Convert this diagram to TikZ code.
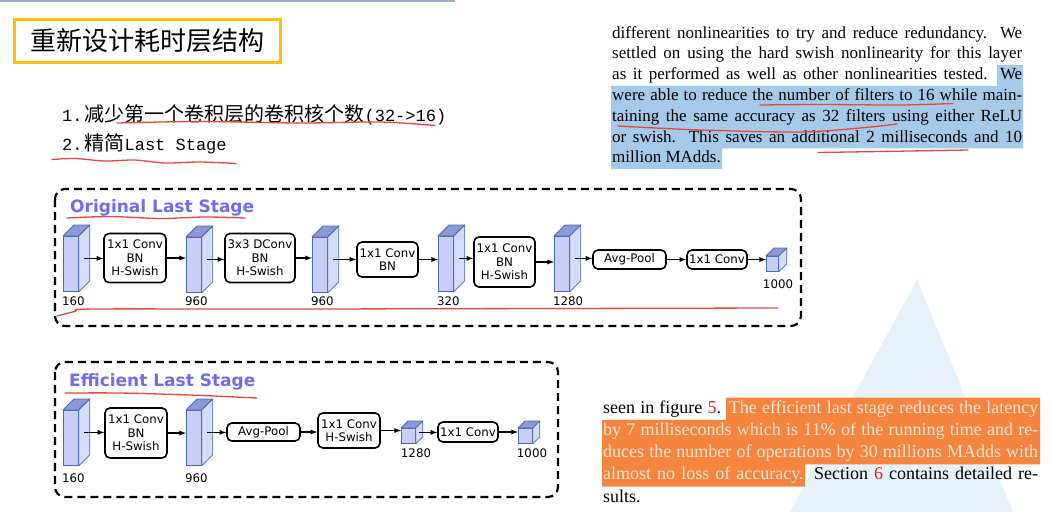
\documentclass[tikz,border=0pt]{standalone}
\usepackage{fontspec}
\setmainfont{Liberation Serif}
\newfontfamily\cjk{Noto Sans CJK SC}
\newfontfamily\listmono{Liberation Mono}
\newfontfamily\djv{DejaVu Sans}
\usetikzlibrary{calc}
\definecolor{fmfront}{HTML}{C8CEF7}
\definecolor{fmtop}{HTML}{8E97D8}
\definecolor{fmside}{HTML}{D6DBFA}
\definecolor{fmedge}{HTML}{4D6BB3}
\definecolor{stagetitle}{HTML}{6B6EF2}
\definecolor{markred}{HTML}{E8473C}
\definecolor{refred}{HTML}{E0211D}
\definecolor{hlblue}{HTML}{A5C9E8}
\definecolor{hlorange}{HTML}{F5843F}
\definecolor{hltext}{HTML}{FCE6D6}
\definecolor{boxorange}{HTML}{FFC000}
\definecolor{topline}{HTML}{95B3D7}
\definecolor{wmark}{HTML}{E4F2FC}
\begin{document}
\begin{tikzpicture}[x=1pt,y=-1pt,
	fmap/.style={draw=fmedge,fill=fmfront,line width=0.8pt,inner sep=0pt,anchor=north west},
	fmtopface/.style={draw=fmedge,fill=fmtop,line width=0.8pt,line join=round},
	fmsideface/.style={draw=fmedge,fill=fmside,line width=0.8pt,line join=round},
	layer/.style={draw,line width=1.6pt,rounded corners=5pt,align=center,inner sep=0pt,font=\djv\fontsize{11.8}{13.5}\selectfont},
	dim/.style={font=\djv\fontsize{11.8}{14}\selectfont,inner sep=0pt},
	arr/.style={-latex,line width=1.3pt},
	stagebox/.style={line width=2.2pt,dash pattern=on 8pt off 5pt,rounded corners=10pt},
	stagename/.style={font=\djv\bfseries\fontsize{17}{20}\selectfont,text=stagetitle,inner sep=0pt,anchor=west},
	redpen/.style={markred,line width=1.3pt,line cap=round},
	para/.style={font=\fontsize{17}{20.8}\selectfont,inner sep=0pt,anchor=base west},
	paralow/.style={font=\fontsize{18}{22}\selectfont,inner sep=0pt,anchor=base west}]
	\useasboundingbox (0,0) rectangle (1051,512);
	\fill[white] (0,0) rectangle (1051,512);
	\draw[topline,line width=2pt] (0,1) -- (455,1);
	\fill[wmark] (917,280) -- (1013,512) -- (790,512) -- cycle;
	%标题
	\node[draw=boxorange,line width=3pt,fill=white,minimum width=266pt,minimum height=43pt,font=\cjk\fontsize{26}{30}\selectfont] (title) at (147,40.5) {重新设计耗时层结构};
	\node[anchor=base west,inner sep=0pt,font=\cjk\fontsize{20}{24}\selectfont] (item-1) at (62,121) {{\listmono\fontsize{17}{20}\selectfont 1.}\hspace{2pt}减少第一个卷积层的卷积核个数{\listmono\fontsize{17}{20}\selectfont (32->16)}};
	\node[anchor=base west,inner sep=0pt,font=\cjk\fontsize{20}{24}\selectfont] (item-2) at (62,150) {{\listmono\fontsize{17}{20}\selectfont 2.}\hspace{2pt}精简{\listmono\fontsize{17}{20}\selectfont Last Stage}};
	%论文摘录
	\fill[hlblue] (997,65.1) rectangle (1023,85.9) (611,85.9) rectangle (1023,148.3) (611,148.3) rectangle (722,169.1);
	\node[para] (para-1) at (612,38) {\makebox[410pt][s]{different nonlinearities to try and reduce redundancy. We}};
	\node[para] (para-2) at (612,58.8) {\makebox[410pt][s]{settled on using the hard swish nonlinearity for this layer}};
	\node[para] (para-3) at (612,79.6) {\makebox[410pt][s]{as it performed as well as other nonlinearities tested. We}};
	\node[para] (para-4) at (612,100.4) {\makebox[410pt][s]{were able to reduce the number of filters to 16 while main-}};
	\node[para] (para-5) at (612,121.2) {\makebox[410pt][s]{taining the same accuracy as 32 filters using either ReLU}};
	\node[para] (para-6) at (612,142) {\makebox[410pt][s]{or swish. This saves an additional 2 milliseconds and 10}};
	\node[para] (para-7) at (612,162.8) {million MAdds.};
	\fill[hlorange] (726,397.5) rectangle (1040,419.75) (602,419.75) rectangle (1040,464.25) (602,464.25) rectangle (805,486.5);
	\node[paralow] (low-1) at (603,413) {\makebox[435pt][s]{seen in figure {\color{refred}5}. {\color{hltext}The efficient last stage reduces the latency}}};
	\node[paralow] (low-2) at (603,435.25) {\makebox[435pt][s]{\color{hltext}by 7 milliseconds which is 11\% of the running time and re-}};
	\node[paralow] (low-3) at (603,457.5) {\makebox[435pt][s]{\color{hltext}duces the number of operations by 30 millions MAdds with}};
	\node[paralow] (low-4) at (603,479.75) {\makebox[435pt][s]{{\color{hltext}almost no loss of accuracy.} Section {\color{refred}6} contains detailed re-}};
	\node[paralow] (low-5) at (603,502) {sults.};
	%原始结构
	\draw[stagebox] (55,189) rectangle (801,326);
	\node[stagename] (orig-name) at (70,208) {Original Last Stage};
	\node[fmap,minimum width=15pt,minimum height=55pt] (o1) at (63,236) {};
	\node[fmap,minimum width=15pt,minimum height=55pt] (o2) at (186,237) {};
	\node[fmap,minimum width=15pt,minimum height=55pt] (o3) at (312,237) {};
	\node[fmap,minimum width=15pt,minimum height=55pt] (o4) at (438,236) {};
	\node[fmap,minimum width=15pt,minimum height=55pt] (o5) at (554,236) {};
	\node[fmap,minimum width=12pt,minimum height=15pt] (o6) at (766,256) {};
	\node[layer,minimum width=62pt,minimum height=49pt] (oa) at (135,258) {1x1 Conv\\BN\\H-Swish};
	\node[layer,minimum width=70pt,minimum height=49pt] (ob) at (260,258) {3x3 DConv\\BN\\H-Swish};
	\node[layer,minimum width=61pt,minimum height=35pt] (oc) at (387.5,259.5) {1x1 Conv\\BN};
	\node[layer,minimum width=61pt,minimum height=50pt] (od) at (504.5,262) {1x1 Conv\\BN\\H-Swish};
	\node[layer,minimum width=73pt,minimum height=19pt] (oe) at (629.5,259.5) {Avg-Pool};
	\node[layer,minimum width=60pt,minimum height=19pt] (of) at (717,259.5) {1x1 Conv};
	\node[dim,anchor=west] (lo1) at (62,301) {160};
	\node[dim,anchor=west] (lo2) at (185,301) {960};
	\node[dim,anchor=west] (lo3) at (311,301) {960};
	\node[dim,anchor=west] (lo4) at (437,301) {320};
	\node[dim,anchor=west] (lo5) at (553,301) {1280};
	\node[dim] (lo6) at (778,284) {1000};
	%高效结构
	\draw[stagebox] (55,362) rectangle (558,497);
	\node[stagename] (eff-name) at (69,382) {Efficient Last Stage};
	\node[fmap,minimum width=15pt,minimum height=55pt] (e1) at (63,410) {};
	\node[fmap,minimum width=15pt,minimum height=55pt] (e2) at (186,410) {};
	\node[fmap,minimum width=14pt,minimum height=15pt] (e3) at (401,428) {};
	\node[fmap,minimum width=14pt,minimum height=15pt] (e4) at (518,428) {};
	\node[layer,minimum width=62pt,minimum height=50pt] (ea) at (136,433) {1x1 Conv\\BN\\H-Swish};
	\node[layer,minimum width=73pt,minimum height=18pt] (eb) at (263.5,432) {Avg-Pool};
	\node[layer,minimum width=62pt,minimum height=35pt] (ec) at (349,430.5) {1x1 Conv\\H-Swish};
	\node[layer,minimum width=60pt,minimum height=20pt] (ed) at (468,432) {1x1 Conv};
	\node[dim,anchor=west] (le1) at (62,478) {160};
	\node[dim,anchor=west] (le2) at (185,478) {960};
	\node[dim] (le3) at (416,453) {1280};
	\node[dim] (le4) at (532,453) {1000};
	%立体特征图
	\foreach \p/\d in {o1/11,o2/11,o3/11,o4/11,o5/11,o6/8,e1/11,e2/11,e3/7,e4/7}{
		\filldraw[fmtopface] (\p.north west) -- (\p.north east) -- ++(\d,-\d) -- ($(\p.north west)+(\d,-\d)$) -- cycle;
		\filldraw[fmsideface] (\p.north east) -- (\p.south east) -- ++(\d,-\d) -- ($(\p.north east)+(\d,-\d)$) -- cycle;
		\coordinate (\p-out) at ($(\p.east)+(\d/2,-\d/2)$);
	}
	%连线
	\draw[arr] (o1-out) -- (o1-out -| oa.west);
	\draw[arr] (oa.east) -- (oa.east -| o2.west);
	\draw[arr] (o2-out) -- (o2-out -| ob.west);
	\draw[arr] (ob.east) -- (ob.east -| o3.west);
	\draw[arr] (o3-out) -- (o3-out -| oc.west);
	\draw[arr] (oc.east) -- (oc.east -| o4.west);
	\draw[arr] (o4-out) -- (o4-out -| od.west);
	\draw[arr] (od.east) -- (od.east -| o5.west);
	\draw[arr] (o5-out) -- (o5-out -| oe.west);
	\draw[arr] (oe.east) -- (oe.east -| of.west);
	\draw[arr] (of.east) -- (of.east -| o6.west);
	\draw[arr] (e1-out) -- (e1-out -| ea.west);
	\draw[arr] (ea.east) -- (ea.east -| e2.west);
	\draw[arr] (e2-out) -- (e2-out -| eb.west);
	\draw[arr] (eb.east) -- (eb.east -| ec.west);
	\draw[arr] (ec.east) -- (ec.east -| e3.west);
	\draw[arr] (e3-out) -- (e3-out -| ed.west);
	\draw[arr] (ed.east) -- (ed.east -| e4.west);
	%批注
	\draw[redpen] plot[smooth] coordinates {(117,123) (200,121.5) (300,123) (380,122) (435,125.5)};
	\draw[redpen] plot[smooth] coordinates {(52,159.5) (75,158.5) (105,161) (135,160) (165,163) (200,162) (236,163.5)};
	\draw[redpen] plot[smooth] coordinates {(760,105) (820,104.5) (900,105) (953,103.5)};
	\draw[redpen] plot[smooth] coordinates {(618,126) (700,130) (800,132) (860,128) (897,124)};
	\draw[redpen] plot[smooth] coordinates {(818,152.5) (880,151.5) (968,150)};
	\draw[redpen] plot[smooth] coordinates {(67,218) (110,216.5) (160,218.5) (205,217) (245,218)};
	\draw[redpen] plot[smooth] coordinates {(57,316) (75,311.5) (95,309) (300,309) (778,308)};
	\draw[redpen] plot[smooth] coordinates {(65,393) (120,393) (190,395) (257,398)};
\end{tikzpicture}
\end{document}
